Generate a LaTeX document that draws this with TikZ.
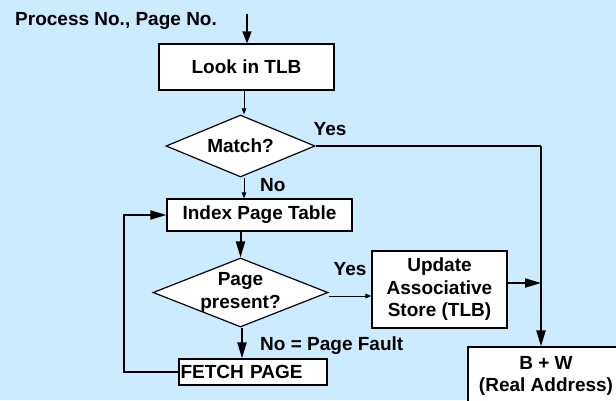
\documentclass[tikz,border=0pt]{standalone}
\usepackage{fontspec}
\setmainfont{Liberation Sans}
\usetikzlibrary{arrows.meta,shapes.geometric,calc}
\definecolor{bgblue}{RGB}{204,235,255}
\begin{document}
\begin{tikzpicture}[x=1pt,y=-1pt,
  font=\fontsize{19}{22.5}\selectfont\bfseries,
  box/.style={draw, fill=white, line width=1.2pt, inner sep=0pt, align=center},
  decision/.style={draw, fill=white, diamond, line width=1.2pt, inner sep=0pt},
  thinarrow/.style={line width=1pt, -{Triangle[length=6pt,width=4.5pt]}},
  thickarrow/.style={line width=2pt, -{Triangle[length=16pt,width=9pt]}},
  lbl/.style={inner sep=0pt}
]
\clip (0,0) rectangle (616,400);
\fill[bgblue] (0,0) rectangle (616,400);

% nodes
\node[lbl, anchor=west] (src) at (15,21) {Process No., Page No.};
\node[box, minimum width=175pt, minimum height=46pt] (look) at (246.5,67) {Look in TLB};
\node[decision, minimum width=149pt, minimum height=62pt,
      label={[lbl]center:Match?}] (match) at (240.5,146) {};
\node[box, minimum width=185pt, minimum height=32pt] (index) at (259.5,215) {Index Page Table};
\node[decision, minimum width=175pt, minimum height=69pt,
      label={[lbl, align=center]center:{Page\\present?}}] (page) at (240.5,292.5) {};
\node[box, minimum width=135pt, minimum height=77pt] (update) at (439.5,289.5)
     {Update\\Associative\\Store (TLB)};
\node[box, text width=145pt, align=left, inner xsep=1.5pt, minimum height=26pt] (fetch)
     at (253,372) {FETCH PAGE};
\node[box, minimum width=156pt, minimum height=58pt] (bw) at (546,376)
     {B + W\\(Real Address)};

% labels
\node[lbl] (yes1) at (330,129) {Yes};
\node[lbl, anchor=west] (no1) at (260,185) {No};
\node[lbl] (yes2) at (350,269) {Yes};
\node[lbl, anchor=west] (no2) at (260,346) {No = Page Fault};

% junction points
\coordinate (entry) at (247,14);
\coordinate (bend) at (541,146);
\coordinate (merge) at (541,283);
\coordinate (pyes) at ([yshift=-3.5pt]page.east);

% connectors
\draw[line width=1.5pt, -{Triangle[length=12pt,width=9pt]}] (entry) -- (entry |- look.north);
\draw[thinarrow] ([xshift=-2.5pt]look.south) -- ([xshift=3.5pt]match.north);
\draw[thinarrow] ([xshift=3.5pt]match.south) -- ([xshift=-15.5pt]index.north);
\draw[thickarrow] ([xshift=-19pt]index.south) -- (page.north);
\draw[thickarrow] ([xshift=1.5pt]page.south) -- ([xshift=-11pt]fetch.north);
\draw[thinarrow] (pyes) -- (update.west |- pyes);
\draw[thickarrow] (fetch.west) -- ++(-54,0) |- (index.west);
\draw[line width=1.8pt] (match.east) -- (bend);
\draw[thickarrow] (bend) -- (bend |- bw.north);
\draw[thickarrow] (update.east |- merge) -- (merge);
\end{tikzpicture}
\end{document}
